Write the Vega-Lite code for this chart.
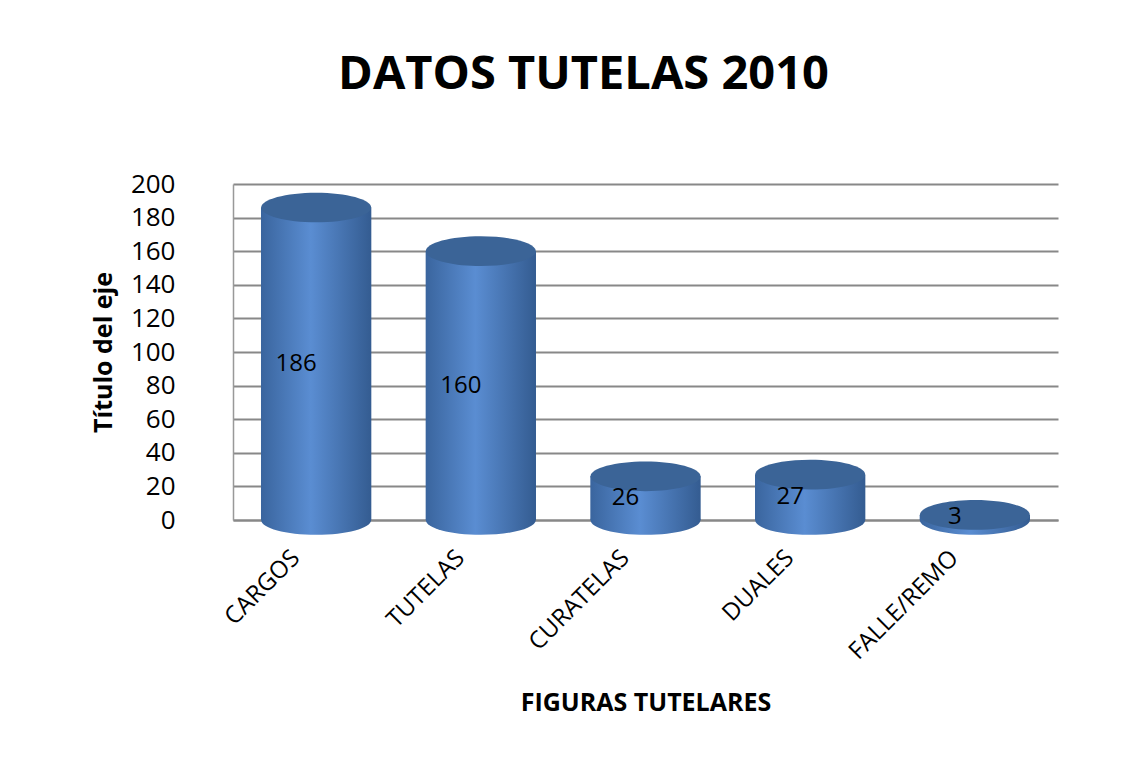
{
  "$schema": "https://vega.github.io/schema/vega-lite/v6.json",
  "autosize": "none",
  "width": 825,
  "height": 336,
  "padding": {"left": 233, "top": 184, "right": 87, "bottom": 242},
  "background": "white",
  "title": {
    "text": "DATOS TUTELAS 2010",
    "font": "Open Sans",
    "fontSize": 47,
    "fontWeight": "bold",
    "color": "black",
    "anchor": "middle",
    "offset": 72,
    "dx": -62
  },
  "data": {
    "values": [
      {"figura": "CARGOS", "valor": 186},
      {"figura": "TUTELAS", "valor": 160},
      {"figura": "CURATELAS", "valor": 26},
      {"figura": "DUALES", "valor": 27},
      {"figura": "FALLE/REMO", "valor": 3}
    ]
  },
  "encoding": {
    "x": {
      "field": "figura",
      "type": "nominal",
      "sort": null,
      "scale": {"paddingInner": 0.33, "paddingOuter": 0.17},
      "axis": {
        "title": "FIGURAS TUTELARES",
        "titleFont": "Open Sans",
        "titleFontSize": 25,
        "titleFontWeight": "bold",
        "titleColor": "black",
        "titlePadding": 27,
        "labelAngle": -45,
        "labelAlign": "right",
        "labelBaseline": "middle",
        "labelFont": "Open Sans",
        "labelFontSize": 24,
        "labelColor": "black",
        "labelPadding": 34,
        "labelOffset": -20,
        "ticks": false,
        "domain": true,
        "domainColor": "#888888",
        "domainWidth": 2
      }
    },
    "y": {
      "field": "valor",
      "type": "quantitative",
      "scale": {"domain": [0, 200]},
      "axis": {
        "title": "Título del eje",
        "titleFont": "Open Sans",
        "titleFontSize": 25,
        "titleFontWeight": "bold",
        "titleColor": "black",
        "titlePadding": 14,
        "values": [0, 20, 40, 60, 80, 100, 120, 140, 160, 180, 200],
        "labelFont": "Open Sans",
        "labelFontSize": 26,
        "labelColor": "black",
        "labelPadding": 58,
        "ticks": false,
        "domain": true,
        "domainColor": "#999999",
        "domainWidth": 1.5,
        "grid": true,
        "gridColor": "#888888",
        "gridWidth": 2
      }
    }
  },
  "layer": [
    {
      "mark": {
        "type": "bar",
        "color": {
          "gradient": "linear",
          "x1": 0, "x2": 1, "y1": 0, "y2": 0,
          "stops": [
            {"offset": 0, "color": "#3A659E"},
            {"offset": 0.45, "color": "#5A8DD2"},
            {"offset": 1, "color": "#345C91"}
          ]
        }
      }
    },
    {
      "mark": {
        "type": "point",
        "filled": true,
        "size": 12100,
        "opacity": 1,
        "shape": "M -1 0 A 1 0.27 0 1 0 1 0 A 1 0.27 0 1 0 -1 0 Z",
        "color": {
          "gradient": "linear",
          "x1": 0, "x2": 1, "y1": 0, "y2": 0,
          "stops": [
            {"offset": 0, "color": "#3A659E"},
            {"offset": 0.45, "color": "#5A8DD2"},
            {"offset": 1, "color": "#345C91"}
          ]
        }
      },
      "encoding": {
        "y": {"datum": 0}
      }
    },
    {
      "mark": {
        "type": "point",
        "filled": true,
        "size": 12100,
        "opacity": 1,
        "shape": "M -1 0 A 1 0.27 0 1 0 1 0 A 1 0.27 0 1 0 -1 0 Z",
        "color": "#3B6497"
      }
    },
    {
      "mark": {
        "type": "text",
        "font": "Open Sans",
        "fontSize": 24,
        "color": "black",
        "align": "center",
        "baseline": "middle",
        "dx": -20
      },
      "encoding": {
        "y": {"field": "mid", "type": "quantitative"},
        "text": {"field": "valor", "type": "quantitative"}
      },
      "transform": [{"calculate": "datum.valor / 2", "as": "mid"}]
    }
  ],
  "config": {
    "view": {"stroke": null}
  }
}
